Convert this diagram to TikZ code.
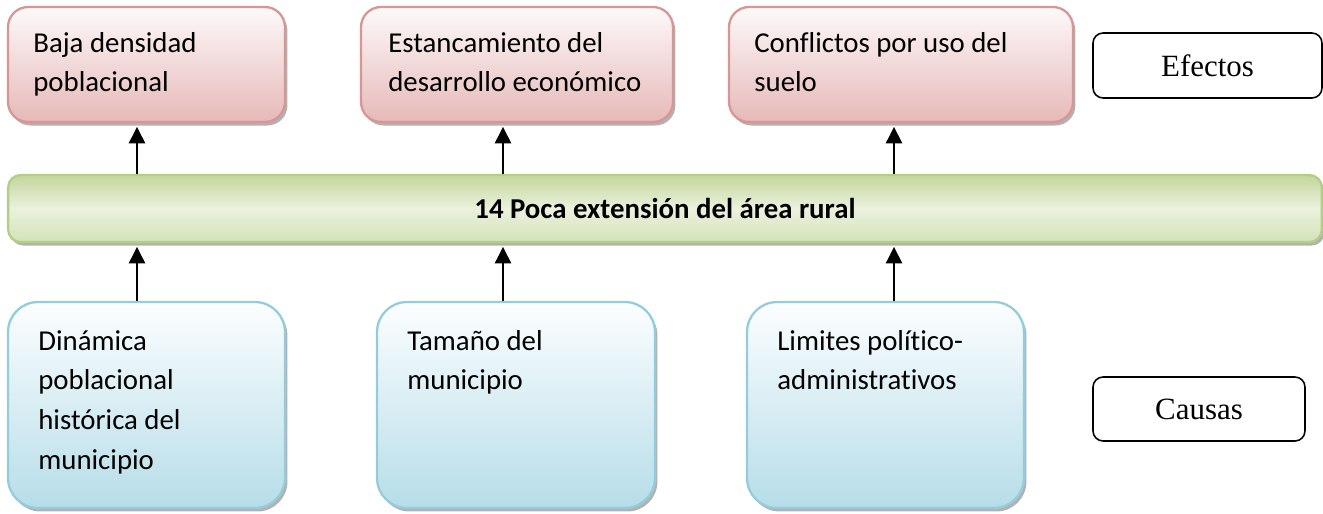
\documentclass[tikz,border=0pt]{standalone}
\usepackage{fontspec}
\setmainfont[Ligatures=NoCommon]{Carlito}
\newfontfamily\timesfont{Liberation Serif}
\usetikzlibrary{shadows,arrows.meta}
\definecolor{efline}{HTML}{D99594}
\definecolor{eftop}{HTML}{FDF9F9}
\definecolor{efbot}{HTML}{E6B9B8}
\definecolor{caline}{HTML}{93CDDD}
\definecolor{catop}{HTML}{FCFEFF}
\definecolor{cabot}{HTML}{B6DDE8}
\definecolor{prline}{HTML}{B5CD87}
\definecolor{prtop}{HTML}{C3D69B}
\definecolor{prmid}{HTML}{EBF1DE}
\definecolor{prbot}{HTML}{D3E2B6}
\begin{document}
\begin{tikzpicture}[x=0.02cm,y=-0.02cm,
	sombra/.style={drop shadow={shadow xshift=1.4pt,shadow yshift=-2pt,fill=black,opacity=0.3}},
	efecto/.style={draw=efline,line width=1.3pt,rounded corners=0.4cm,top color=eftop,bottom color=efbot,sombra,minimum height=2.3cm},
	causa/.style={draw=caline,line width=1.3pt,rounded corners=0.6cm,top color=catop,bottom color=cabot,sombra,minimum height=4.12cm},
	rotulo/.style={draw,line width=0.9pt,rounded corners=0.2cm,font=\timesfont\fontsize{17.6}{20}\selectfont},
	txt/.style={anchor=base west,text width=6.5cm,align=flush left,inner sep=0pt,font=\fontsize{16.4}{22.7}\selectfont},
	flecha/.style={line width=1.6pt,-{Triangle[width=9pt,length=9.5pt]}}]
	\useasboundingbox (0,0) rectangle (1323,514);

	\node[efecto,minimum width=5.54cm] (e1) at (146.5,64.5) {};
	\node[efecto,minimum width=6.24cm] (e2) at (517,64.5) {};
	\node[efecto,minimum width=6.88cm] (e3) at (901,64.5) {};
	\node[txt] (t1) at (33,52) {Baja densidad\\poblacional};
	\node[txt] (t2) at (388,52) {Estancamiento del\\desarrollo económico};
	\node[txt] (t3) at (754,52) {Conflictos por uso del\\suelo};

	\node[draw=prline,line width=1.3pt,rounded corners=0.25cm,top color=prtop,bottom color=prbot,middle color=prmid,sombra,minimum width=26.28cm,minimum height=1.34cm,font=\bfseries\fontsize{16.4}{20}\selectfont] (p) at (665,208.5) {14 Poca extensión del área rural};

	\node[causa,minimum width=5.54cm] (c1) at (146.5,405) {};
	\node[causa,minimum width=5.56cm] (c2) at (516,405) {};
	\node[causa,minimum width=5.54cm] (c3) at (885.5,405) {};
	\node[txt] (t4) at (38,350) {Dinámica\\poblacional\\histórica del\\municipio};
	\node[txt] (t5) at (407,350) {Tamaño del\\municipio};
	\node[txt] (t6) at (777,350) {Limites político-\\administrativos};

	\node[rotulo,minimum width=4.58cm,minimum height=1.3cm] (ef) at (1207.5,65.5) {Efectos};
	\node[rotulo,minimum width=4.24cm,minimum height=1.28cm] (ca) at (1199,409) {Causas};

	\coordinate (a1) at (137,0);
	\coordinate (a2) at (503,0);
	\coordinate (a3) at (894,0);
	\draw[flecha] (p.north -| a1) -- ([yshift=-2pt]e1.south -| a1);
	\draw[flecha] (p.north -| a2) -- ([yshift=-2pt]e2.south -| a2);
	\draw[flecha] (p.north -| a3) -- ([yshift=-2pt]e3.south -| a3);
	\draw[flecha] (c1.north -| a1) -- ([yshift=-2pt]p.south -| a1);
	\draw[flecha] (c2.north -| a2) -- ([yshift=-2pt]p.south -| a2);
	\draw[flecha] (c3.north -| a3) -- ([yshift=-2pt]p.south -| a3);
\end{tikzpicture}
\end{document}
